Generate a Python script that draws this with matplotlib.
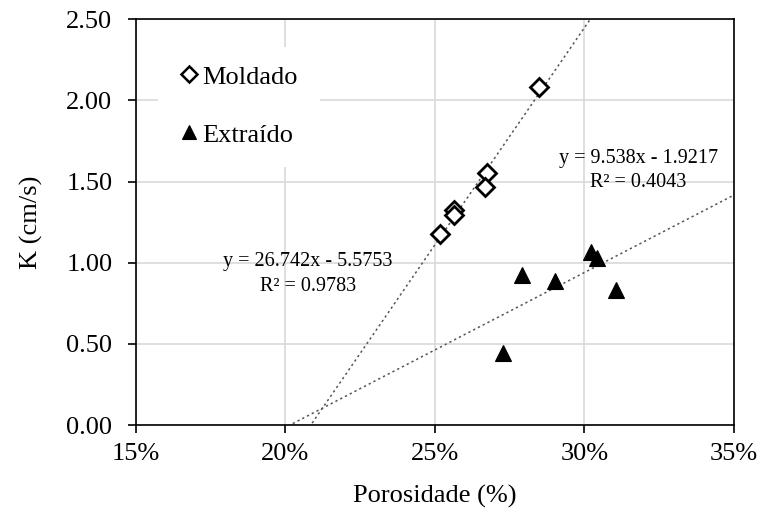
import matplotlib
matplotlib.use("Agg")
import matplotlib.pyplot as plt
import numpy as np
from matplotlib.patches import Rectangle

plt.rcParams['font.family'] = ['Liberation Serif', 'DejaVu Serif']

# Data (porosity as fraction, K in cm/s)
moldado_x = [0.2849, 0.2675, 0.2668, 0.2564, 0.2564, 0.2517]
moldado_y = [2.083, 1.553, 1.466, 1.325, 1.294, 1.177]
extraido_x = [0.2792, 0.2902, 0.2728, 0.3023, 0.3043, 0.3106]
extraido_y = [0.924, 0.887, 0.444, 1.066, 1.029, 0.832]

fit_moldado = (26.742, -5.5753)
fit_extraido = (9.538, -1.9217)
eq_moldado = ["y = 26.742x - 5.5753", "R² = 0.9783"]
eq_extraido = ["y = 9.538x - 1.9217", "R² = 0.4043"]

xticks = [0.15, 0.20, 0.25, 0.30, 0.35]
xticklabels = ["15%", "20%", "25%", "30%", "35%"]
yticks = [0.0, 0.5, 1.0, 1.5, 2.0, 2.5]
yticklabels = ["0.00", "0.50", "1.00", "1.50", "2.00", "2.50"]

fig = plt.figure(figsize=(7.6, 5.19), dpi=100)
ax = fig.add_axes([0.179, 0.181, 0.7864, 0.7817])
ax.set_xlim(0.15, 0.35)
ax.set_ylim(0, 2.5)

ax.grid(True, color='#d9d9d9', linewidth=1.2, zorder=0)
ax.set_axisbelow(True)

xx = np.linspace(0.15, 0.35, 200)
for (m, b) in (fit_moldado, fit_extraido):
    ax.plot(xx, m * xx + b, linestyle=(0, (1.5, 2)), color='#555555',
            linewidth=1.1, zorder=2, clip_on=True)

ax.plot(moldado_x, moldado_y, linestyle='none', marker='D', ms=9,
        mfc='white', mec='black', mew=2, zorder=3, label='Moldado')
ax.plot(extraido_x, extraido_y, linestyle='none', marker='^', ms=12,
        mfc='black', mec='black', mew=0.8, zorder=3, label='Extraído')

ax.set_xticks(xticks)
ax.set_xticklabels(xticklabels)
ax.set_yticks(yticks)
ax.set_yticklabels(yticklabels)
ax.tick_params(axis='both', direction='out', length=6, width=1.2,
               labelsize=19, colors='black')
ax.tick_params(axis='x', pad=7)
ax.tick_params(axis='y', pad=11)
for s in ax.spines.values():
    s.set_color('black')
    s.set_linewidth(1.2)

ax.set_xlabel("Porosidade (%)", fontsize=19, labelpad=14)
ax.set_ylabel("K (cm/s)", fontsize=19, labelpad=17)

# Equations
ax.text(0.2076, 1.01, eq_moldado[0], fontsize=14.5, ha='center', va='center', zorder=4)
ax.text(0.2076, 0.856, eq_moldado[1], fontsize=14.5, ha='center', va='center', zorder=4)
ax.text(0.318, 1.645, eq_extraido[0], fontsize=14.5, ha='center', va='center', zorder=4)
ax.text(0.318, 1.497, eq_extraido[1], fontsize=14.5, ha='center', va='center', zorder=4)

# Legend with white background covering grid
ax.add_patch(Rectangle((0.1574, 1.59), 0.054, 0.74, transform=ax.transData,
                       facecolor='white', edgecolor='none', zorder=1.5))
leg = ax.legend(loc='upper left', bbox_to_anchor=(0.0385, 0.913), frameon=False,
                prop={'family': 'Liberation Serif', 'size': 19},
                handletextpad=-0.25, labelspacing=1.31,
                borderaxespad=0, handlelength=1.5, markerscale=0.85)
for h in leg.legend_handles:
    h.set_markeredgewidth(1.8 if h.get_marker() == 'D' else 0.8)

fig.savefig("out.png", dpi=100)
